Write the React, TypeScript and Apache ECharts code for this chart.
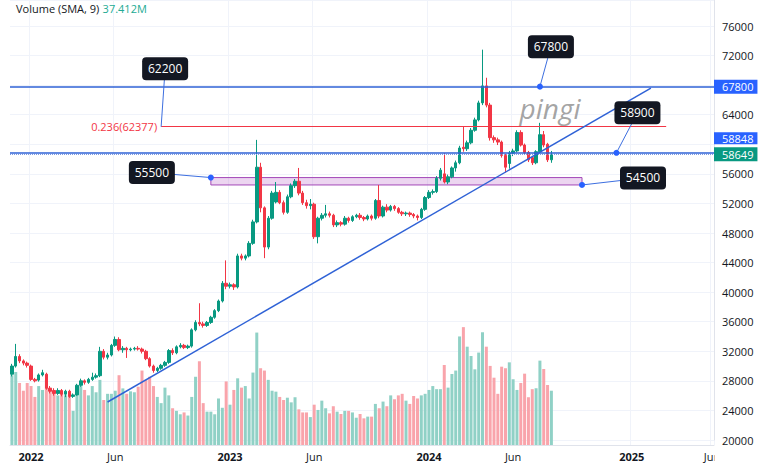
import React, { useEffect, useRef } from 'react';
import * as echarts from 'echarts';

// ---------- time axis (weekly bars) ----------
const START_UTC = Date.UTC(2021, 10, 29);
const WEEK_MS = 7 * 86400000;
const TOTAL_WEEKS = 184;
const categories: string[] = Array.from({ length: TOTAL_WEEKS }, (_, i) =>
  new Date(START_UTC + i * WEEK_MS).toISOString().slice(0, 10)
);

// ---------- price data: [open, close, low, high] ----------
const candles: number[][] = [
  [28900, 30000, 28600, 30300], [30000, 31300, 29800, 33000], [31300, 30700, 30400, 31600], [30700, 30400, 30100, 30900],
  [30400, 30100, 29800, 30600], [30000, 28200, 28000, 30200], [28200, 28000, 27800, 28400], [28100, 28800, 27900, 29000],
  [28800, 29100, 28600, 29500], [28900, 27000, 26800, 29100], [27000, 26600, 26300, 27300], [26700, 26300, 26000, 27000],
  [26300, 26700, 26100, 27000], [26700, 26200, 25900, 26900], [26200, 26600, 25800, 26800], [26600, 25900, 25700, 26800],
  [25900, 26100, 25700, 26300], [26100, 27400, 26000, 27600], [27400, 28000, 27200, 28300], [28000, 27800, 27500, 28200],
  [27800, 28200, 27600, 28400], [28200, 28500, 28000, 29100], [28500, 28700, 28300, 29000], [28700, 32000, 28500, 32600],
  [32000, 31200, 30900, 32300], [31200, 31500, 30900, 31800], [31500, 32800, 31300, 33000], [32800, 33600, 32600, 34000],
  [33600, 32200, 32000, 33900], [32200, 32400, 31800, 32700], [32400, 32200, 31100, 32600], [32200, 32300, 32000, 32500],
  [32300, 32400, 32100, 32600], [32400, 32300, 32100, 32700], [32300, 32000, 31700, 32500], [32000, 31000, 30800, 32200],
  [31000, 30000, 29800, 31200], [30000, 29400, 29100, 30200], [29400, 29700, 29200, 29900], [29700, 30100, 29500, 30300],
  [30100, 30500, 29900, 30700], [30500, 32100, 30300, 32300], [32100, 31800, 31500, 32400], [31800, 32600, 31600, 32800],
  [32600, 32800, 32400, 33100], [32800, 32500, 32300, 33000], [32500, 32700, 32300, 32900], [32700, 34900, 32500, 35100],
  [34900, 35900, 34700, 36200], [35900, 35700, 35400, 38500], [35700, 35500, 35200, 36000], [35500, 35900, 35300, 36100],
  [35900, 36600, 35700, 36800], [36600, 37500, 36400, 37700], [37500, 38800, 37300, 39000], [38800, 41200, 38600, 41500],
  [41200, 40800, 40400, 44300], [40800, 41000, 40500, 41300], [41000, 40700, 40300, 41200], [40700, 44900, 40500, 45200],
  [44900, 44600, 44300, 45200], [44600, 44900, 44300, 45100], [44900, 46600, 44700, 46900], [46600, 49500, 46400, 49800],
  [49500, 56900, 49300, 60600], [56900, 51400, 50800, 57500], [51400, 46100, 44600, 51600], [46100, 50000, 45800, 50300],
  [50000, 53400, 49800, 53700], [52200, 53500, 52000, 54900], [53500, 52100, 51900, 53800], [52100, 50800, 50500, 52400],
  [50800, 52900, 50600, 53200], [52900, 54400, 52700, 54700], [54400, 55000, 54100, 55300], [55000, 53400, 53100, 56800],
  [53400, 52100, 51800, 53700], [52100, 51700, 51300, 52500], [51700, 51900, 51200, 52600], [51900, 47500, 47200, 52100],
  [47500, 50000, 46600, 50200], [50000, 50400, 49700, 50700], [50400, 50600, 50100, 51800], [50600, 50400, 50100, 50900],
  [50400, 49100, 48800, 50600], [49100, 49400, 48800, 49700], [49400, 49200, 48900, 49600], [49200, 50000, 49000, 50300],
  [50000, 49700, 49400, 50200], [49700, 50200, 49500, 50400], [50200, 50400, 50000, 50600], [50400, 50100, 49800, 50700],
  [50100, 49900, 49600, 50300], [49900, 50300, 49700, 50500], [50300, 50000, 49700, 50500], [50000, 52400, 49800, 52600],
  [52400, 50300, 50000, 54500], [50300, 51500, 50100, 51700], [51500, 51100, 50800, 51900], [51100, 51600, 50900, 51800],
  [51600, 51300, 51000, 51800], [51300, 50800, 50600, 51500], [50800, 50600, 50300, 51000], [50600, 50700, 50300, 50900],
  [50700, 50500, 50200, 50900], [50500, 50300, 50000, 50700], [50300, 50100, 49700, 50500], [50100, 51200, 49900, 51400],
  [51200, 52800, 51000, 53000], [52800, 53500, 52600, 53800], [53500, 53600, 53200, 53900], [53600, 55400, 53400, 55700],
  [55400, 56500, 55100, 56800], [56000, 54900, 54700, 58800], [54900, 55600, 54600, 55900], [55600, 56800, 55400, 57000],
  [56800, 57500, 56300, 57800], [57500, 59500, 57300, 59800], [59600, 59400, 59000, 62400], [59400, 60200, 59100, 60500],
  [60200, 61900, 60000, 62200], [61900, 63300, 61700, 63600], [63300, 65600, 63100, 65900], [65600, 67900, 65300, 72800],
  [67900, 65300, 65000, 69000], [65300, 60900, 60500, 65600], [60900, 60600, 60200, 61200], [60600, 60300, 59900, 60900],
  [60300, 58500, 58200, 60500], [58500, 56900, 56200, 58700], [57400, 58800, 56700, 59100], [58800, 59100, 58400, 59400],
  [59100, 61600, 58900, 61900], [61600, 59900, 59700, 61900], [59900, 58900, 58600, 60100], [58900, 57900, 57600, 59100],
  [58200, 57500, 57200, 58400], [57500, 59000, 57300, 59200], [59000, 61300, 58800, 62900], [61300, 59900, 59600, 61800],
  [60000, 57900, 57600, 60200], [57900, 58649, 57500, 59100],
];

// ---------- volume (millions) ----------
const volumes: number[] = [
  45, 47, 40, 35, 40, 38, 31, 38, 35.5, 42, 37, 34, 32, 34, 32, 32, 22, 35, 38, 35.5,
  32, 38, 34, 42, 29, 33, 33, 35, 45, 36.5, 33, 34.6, 34, 37.6, 48, 42, 44, 38, 31, 27,
  37, 32, 23.7, 22,
  19.8, 21, 19, 31, 44, 54, 27, 21.5, 21.5, 19.8,
  30, 24, 41, 26, 35.5, 43, 37, 38, 30, 46.7,
  72.5, 49.5, 48, 42, 35, 34.4, 31, 29, 30.5, 27.5,
  30.8, 23, 21, 21, 18, 26, 22.6, 28.6, 23.7, 20.4,
  25, 21.5, 20, 22, 22, 21, 17.6, 20, 17.2, 18.3,
  18.3, 26.5, 23.7, 28, 25, 32, 29.5, 32, 33, 28.6,
  26.5, 31.6, 30, 32, 33, 35.5, 38, 36, 36, 51.6,
  37, 45.8, 48, 70, 76, 63.4, 57.4, 48.8, 59.6, 72.7,
  63.4, 51, 43.4, 33, 50.5, 49.5, 53.3, 42.4, 35.5, 40,
  46, 30.8, 36, 36.6, 54.4, 49, 38.7, 35,
];
const volumeSma = 37.412;

// ---------- price axis ticks ----------
const priceMin = 20000;
const priceStep = 4000;
const hiddenPriceTicks = [60000]; // covered by the price-line tags

// ---------- drawings ----------
const resistanceLevel = 67800;
const supportLevel = 58848;
const lastPrice = 58649;
const fibLevel = 62377;
const fibLabel = '0.236(62377)';
const fibSpan = [39, 171];
const trendStart = [25, 25140];
const trendEnd = [167, 67600];
const zoneSpan = [52, 149];
const zonePrices = [55500, 54500];
const callouts = [
  { text: '62200', at: [39, 62377], dx: 4, dy: -58, dot: false },
  { text: '67800', at: [138, 67800], dx: 11, dy: -40, dot: true },
  { text: '58900', at: [158, 58848], dx: 21, dy: -40, dot: true },
  { text: '55500', at: [52, 55500], dx: -59, dy: -5, dot: true },
  { text: '54500', at: [149, 54500], dx: 61, dy: -7, dot: true },
];

const FONT = "'Open Sans', 'Noto Sans', sans-serif";
const UP = '#089981';
const DOWN = '#f23645';
const VOL_UP = '#90d1c6';
const VOL_DOWN = '#f9a4ab';
const BLUE = '#2f62d6';
const TEXT = '#131722';
const GRIDC = '#f0f3fa';

const dateParts = categories.map((s) => ({ y: +s.slice(0, 4), m: +s.slice(5, 7) }));
const tickLabel = (i: number): string => {
  if (i <= 0) return '';
  const d = dateParts[i];
  const p = dateParts[i - 1];
  if (d.y !== p.y) return `{y|${d.y}}`;
  if (d.m === 6 && p.m === 5) return '{m|Jun}';
  return '';
};

export default function App() {
  const ref = useRef<HTMLDivElement>(null);
  useEffect(() => {
    if (!ref.current) return;
    const chart = echarts.init(ref.current, undefined, { renderer: 'svg' });
    const axisLabelBox = (txt: string, bg: string) => ({
      show: true,
      position: 'end',
      distance: 0,
      formatter: txt,
      backgroundColor: bg,
      color: '#fff',
      fontSize: 11,
      lineHeight: 13,
      fontFamily: FONT,
      padding: [1, 4, 0, 8],
    });
    chart.setOption({
      animation: false,
      backgroundColor: '#ffffff',
      grid: [
        { left: 10, right: 66, top: 0, bottom: 30, containLabel: false, outerBoundsMode: 'none' },
        { left: 10, right: 66, top: 300, bottom: 25, containLabel: false, outerBoundsMode: 'none' },
      ],
      xAxis: [
        {
          type: 'category', gridIndex: 0, data: categories, boundaryGap: true,
          axisLine: { show: false }, axisTick: { show: false }, axisLabel: { show: false },
          splitLine: { show: true, interval: (i: number) => tickLabel(i) !== '', lineStyle: { color: GRIDC, width: 1 } },
        },
        {
          type: 'category', gridIndex: 1, data: categories, boundaryGap: true,
          axisLine: { show: true, lineStyle: { color: '#e0e3eb' } },
          axisTick: { show: false },
          axisLabel: {
            interval: (i: number) => tickLabel(i) !== '',
            formatter: (_v: string, i: number) => tickLabel(i),
            margin: 6,
            rich: {
              y: { fontWeight: 'bold', color: TEXT, fontSize: 11, fontFamily: FONT },
              m: { color: TEXT, fontSize: 11, fontFamily: FONT },
            },
          },
          splitLine: { show: true, interval: (i: number) => tickLabel(i) !== '', lineStyle: { color: GRIDC, width: 1 } },
        },
      ],
      yAxis: [
        {
          type: 'value', gridIndex: 0, position: 'right', min: priceMin, max: 79519, interval: priceStep,
          axisLine: { show: true, lineStyle: { color: '#e0e3eb' } },
          axisTick: { show: false },
          axisLabel: {
            color: TEXT, fontSize: 11, fontFamily: FONT, margin: 8, showMaxLabel: false,
            formatter: (v: number) => (hiddenPriceTicks.includes(v) ? '' : String(v)),
          },
          splitLine: { show: true, lineStyle: { color: GRIDC, width: 1 } },
        },
        { type: 'value', gridIndex: 1, min: 0, max: 93.5, show: false },
      ],
      series: [
        {
          type: 'bar', name: 'Volume', xAxisIndex: 1, yAxisIndex: 1, z: 1, barWidth: 3,
          data: volumes.map((v, i) => ({
            value: v,
            itemStyle: { color: candles[i][1] >= candles[i][0] ? VOL_UP : VOL_DOWN },
          })),
          markLine: {
            silent: true, symbol: ['none', 'none'], animation: false,
            data: [
              { yAxis: volumeSma, lineStyle: { opacity: 0 }, label: axisLabelBox(`${volumeSma}M`, '#22ab94') },
            ],
          },
        },
        {
          type: 'candlestick', name: 'Price', xAxisIndex: 0, yAxisIndex: 0, z: 3, barWidth: 3,
          data: candles,
          itemStyle: { color: UP, color0: DOWN, borderColor: UP, borderColor0: DOWN, borderWidth: 1 },
          markArea: {
            silent: true,
            itemStyle: { color: 'rgba(186, 104, 200, 0.28)', borderColor: '#a349b8', borderWidth: 1 },
            data: [[
              { xAxis: zoneSpan[0], yAxis: zonePrices[0] },
              { xAxis: zoneSpan[1], yAxis: zonePrices[1] },
            ]],
          },
          markLine: {
            silent: true, symbol: ['none', 'none'], animation: false,
            data: [
              { yAxis: lastPrice, lineStyle: { color: '#7d9be3', type: 'dotted', width: 1 }, label: axisLabelBox(String(lastPrice), UP) },
              { yAxis: resistanceLevel, lineStyle: { color: BLUE, type: 'solid', width: 1.5 }, label: axisLabelBox(String(resistanceLevel), '#2962ff') },
              {
                yAxis: supportLevel, lineStyle: { color: BLUE, type: 'solid', width: 1.5 },
                label: {
                  show: true, position: 'end', distance: 0, formatter: `{b|${supportLevel}}`,
                  padding: [0, 0, 29, 0],
                  rich: { b: { backgroundColor: '#2962ff', color: '#fff', fontSize: 11, lineHeight: 13, fontFamily: FONT, padding: [1, 4, 0, 8] } },
                },
              },
              [
                {
                  coord: [fibSpan[0], fibLevel],
                  lineStyle: { color: DOWN, type: 'solid', width: 1 },
                  label: {
                    show: true, position: 'start', distance: 4, formatter: fibLabel,
                    color: DOWN, fontSize: 11, fontFamily: FONT, padding: [0, 0, 18, 0],
                  },
                },
                { coord: [fibSpan[1], fibLevel] },
              ],
              [
                { coord: trendStart, lineStyle: { color: BLUE, type: 'solid', width: 1.5 }, label: { show: false } },
                { coord: trendEnd },
              ],
            ],
          },
        },
      ],
    });

    const els: any[] = [];
    callouts.forEach((c) => {
      const pt = chart.convertToPixel({ gridIndex: 0 }, c.at) as number[];
      if (!pt) return;
      const [ax, ay] = pt;
      const bx = ax + c.dx;
      const by = ay + c.dy;
      els.push({ type: 'line', z: 50, shape: { x1: ax, y1: ay, x2: bx, y2: by }, style: { stroke: '#3d6fe0', lineWidth: 1 } });
      els.push({ type: 'rect', z: 51, shape: { x: bx - 23, y: by - 11.5, width: 46, height: 23, r: 4 }, style: { fill: '#131722' } });
      els.push({
        type: 'text', z: 52, x: bx, y: by,
        style: { text: c.text, fill: '#ffffff', fontSize: 12, fontFamily: FONT, align: 'center', verticalAlign: 'middle' },
      });
      if (c.dot) els.push({ type: 'circle', z: 53, shape: { cx: ax, cy: ay, r: 3 }, style: { fill: '#2962ff' } });
    });
    els.push({
      type: 'text', z: 40, x: 550, y: 108,
      style: { text: 'pingi', fill: 'rgba(140,140,140,0.8)', fontSize: 28, fontStyle: 'italic', fontFamily: FONT, align: 'center', verticalAlign: 'middle' },
    });
    els.push({
      type: 'text', z: 40, x: 16, y: 8,
      style: {
        text: `{a|Volume (SMA, 9)} {b|${volumeSma}M}`,
        verticalAlign: 'middle',
        rich: {
          a: { fill: TEXT, color: TEXT, fontSize: 11, fontFamily: FONT },
          b: { fill: '#22ab94', color: '#22ab94', fontSize: 11, fontFamily: FONT },
        },
      },
    });
    els.push({ type: 'rect', z: 100, shape: { x: 714.5, y: 447, width: 66, height: 23 }, style: { fill: '#ffffff' } });
    chart.setOption({ graphic: { elements: els } });

    return () => chart.dispose();
  }, []);
  return <div ref={ref} style={{ position: 'fixed', left: 0, top: 0, width: 780, height: 470 }} />;
}
